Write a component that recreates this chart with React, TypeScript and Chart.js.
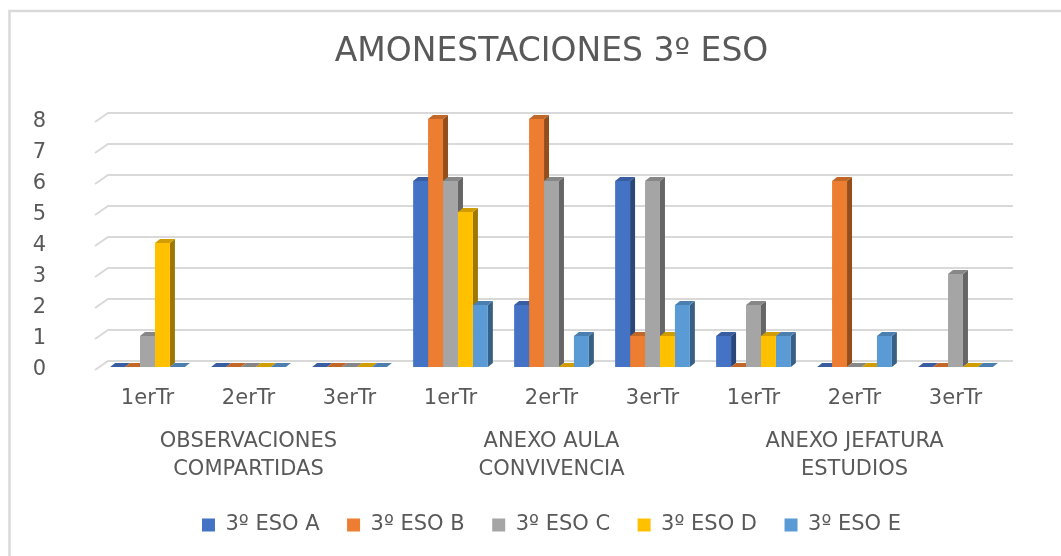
import React, { useEffect, useRef } from 'react';
import { Chart, registerables } from 'chart.js';

Chart.register(...registerables);

const subLabels = ['1erTr', '2erTr', '3erTr', '1erTr', '2erTr', '3erTr', '1erTr', '2erTr', '3erTr'];
const groupLabels = [
  ['OBSERVACIONES', 'COMPARTIDAS'],
  ['ANEXO AULA', 'CONVIVENCIA'],
  ['ANEXO JEFATURA', 'ESTUDIOS'],
];
const seriesNames = ['3º ESO A', '3º ESO B', '3º ESO C', '3º ESO D', '3º ESO E'];
const eso3A = [0, 0, 0, 6, 2, 6, 1, 0, 0];
const eso3B = [0, 0, 0, 8, 8, 1, 0, 6, 0];
const eso3C = [1, 0, 0, 6, 6, 6, 2, 0, 3];
const eso3D = [4, 0, 0, 5, 0, 1, 1, 0, 0];
const eso3E = [0, 0, 0, 2, 1, 2, 1, 1, 0];
const seriesColors = ['#4472C4', '#ED7D31', '#A5A5A5', '#FFC000', '#5B9BD5'];
const yMin = 0;
const yMax = 8;
const yStep = 1;

const TEXT = '#595959';
const FONT = 'DejaVu Sans';

function shade(hex: string, f: number) {
  const n = parseInt(hex.slice(1), 16);
  const r = Math.round(((n >> 16) & 255) * f);
  const g = Math.round(((n >> 8) & 255) * f);
  const b = Math.round((n & 255) * f);
  return `rgb(${r},${g},${b})`;
}

const threeD = {
  id: 'threeD',
  beforeDraw(chart: any) {
    const { ctx, width, height } = chart;
    ctx.save();
    ctx.fillStyle = '#ffffff';
    ctx.fillRect(0, 0, width, height);
    ctx.strokeStyle = '#d9d9d9';
    ctx.lineWidth = 2.5;
    ctx.beginPath();
    ctx.moveTo(9.5, height);
    ctx.lineTo(9.5, 11);
    ctx.lineTo(width, 11);
    ctx.stroke();
    ctx.restore();
  },
  beforeDatasetsDraw(chart: any) {
    const { ctx, chartArea, scales } = chart;
    const ys = scales.y;
    ctx.save();
    ctx.strokeStyle = '#d9d9d9';
    ctx.lineWidth = 2;
    ys.ticks.forEach((t: any) => {
      const py = ys.getPixelForValue(t.value);
      ctx.beginPath();
      ctx.moveTo(chartArea.left - 2, py + 3);
      ctx.lineTo(chartArea.left + 11, py - 6);
      ctx.lineTo(chartArea.right + 7, py - 6);
      ctx.stroke();
    });
    const dx = 5;
    const dy = 4;
    const n = chart.data.labels.length;
    const nd = chart.data.datasets.length;
    for (let i = 0; i < n; i++) {
      for (let d = 0; d < nd; d++) {
        const meta = chart.getDatasetMeta(d);
        const el = meta.data[i];
        if (!el) continue;
        const { x, y, base, width } = el.getProps(['x', 'y', 'base', 'width'], true);
        const left = x - width / 2;
        const right = x + width / 2;
        const top = Math.min(y, base);
        const col = seriesColors[d];
        ctx.fillStyle = shade(col, 0.62);
        ctx.beginPath();
        ctx.moveTo(right, top);
        ctx.lineTo(right + dx, top - dy);
        ctx.lineTo(right + dx, base - dy);
        ctx.lineTo(right, base);
        ctx.closePath();
        ctx.fill();
        ctx.fillStyle = shade(col, 0.82);
        ctx.beginPath();
        ctx.moveTo(left, top);
        ctx.lineTo(left + dx, top - dy);
        ctx.lineTo(right + dx, top - dy);
        ctx.lineTo(right, top);
        ctx.closePath();
        ctx.fill();
      }
    }
    ctx.restore();
  },
};

export default function App() {
  const ref = useRef<HTMLCanvasElement | null>(null);
  useEffect(() => {
    document.body.style.margin = '0';
    const canvas = ref.current;
    if (!canvas) return;
    Chart.defaults.font.family = FONT;
    Chart.defaults.color = TEXT;
    const series = [eso3A, eso3B, eso3C, eso3D, eso3E];
    const chart = new Chart(canvas, {
      type: 'bar',
      data: {
        labels: subLabels,
        datasets: series.map((vals, i) => ({
          label: seriesNames[i],
          data: vals,
          backgroundColor: seriesColors[i],
          borderWidth: 0,
          categoryPercentage: 0.74,
          barPercentage: 1.0,
          xAxisID: 'x',
          yAxisID: 'y',
        })),
      },
      options: {
        responsive: false,
        animation: false,
        events: [],
        layout: { padding: { left: 0, right: 55, top: 0, bottom: 10.5 } },
        plugins: {
          title: {
            display: true,
            text: 'AMONESTACIONES 3º ESO',
            color: TEXT,
            fullSize: false,
            font: { size: 33, weight: 'normal', family: FONT },
            padding: { top: 33, bottom: 46.4 },
          },
          legend: {
            position: 'bottom',
            fullSize: false,
            labels: {
              boxWidth: 13,
              boxHeight: 13,
              padding: 27.5,
              color: TEXT,
              font: { size: 21, family: FONT },
            },
          },
          tooltip: { enabled: false },
        },
        scales: {
          x: {
            type: 'category',
            position: 'bottom',
            grid: { display: false, drawTicks: false },
            border: { display: false },
            ticks: { color: TEXT, font: { size: 21 }, padding: 19, autoSkip: false, maxRotation: 0 },
            afterFit: (s: any) => {
              s.height = 42;
            },
          },
          x2: {
            type: 'category',
            position: 'bottom',
            labels: groupLabels as any,
            offset: true,
            grid: { display: false, drawTicks: false },
            border: { display: false },
            ticks: {
              color: TEXT,
              font: { size: 21, lineHeight: 1.333 },
              padding: 19,
              autoSkip: false,
              maxRotation: 0,
            },
            afterFit: (s: any) => {
              s.height = 78;
            },
          },
          y: {
            min: yMin,
            max: yMax,
            grid: { display: false, drawTicks: false },
            border: { display: false },
            ticks: { stepSize: yStep, color: TEXT, font: { size: 21 }, padding: 51, labelOffset: 3 },
            afterFit: (s: any) => {
              s.width = 97;
            },
          },
        },
      } as any,
      plugins: [threeD],
    });
    return () => chart.destroy();
  }, []);
  return <canvas ref={ref} width={1061} height={556} style={{ display: 'block' }} />;
}
